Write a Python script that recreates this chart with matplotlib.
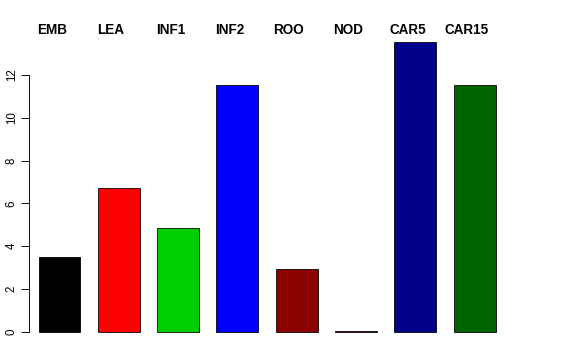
import matplotlib
matplotlib.use("Agg")
import matplotlib.pyplot as plt

categories = ["EMB", "LEA", "INF1", "INF2", "ROO", "NOD", "CAR5", "CAR15"]
values = [3.49, 6.70, 4.83, 11.53, 2.93, 0.02, 13.53, 11.52]
colors = ["#000000", "#FF0000", "#00CD00", "#0000FF", "#8B0000", "#8B008B", "#00008B", "#006400"]
yticks = [0, 2, 4, 6, 8, 10, 12]

W, H = 576, 360
fig = plt.figure(figsize=(W / 72, H / 72), dpi=72)
left_px, right_px, top_px, bottom_px = 29.3, 540.0, 30.7, 343.3
ax = fig.add_axes([left_px / W, 1 - bottom_px / H, (right_px - left_px) / W, (bottom_px - top_px) / H])

x = list(range(len(categories)))
ax.bar(x, values, width=0.708, color=colors, edgecolor="#000000", linewidth=0.8)

spacing = 59.3
ax.set_xlim((left_px - 59.5) / spacing, (right_px - 59.5) / spacing)
ymax = max(values)
ax.set_ylim(-0.04 * ymax, ymax * 1.04)

for s in ["top", "right", "bottom"]:
    ax.spines[s].set_visible(False)
ax.spines["left"].set_bounds(0, 12)
ax.spines["left"].set_linewidth(0.9)
ax.set_xticks([])
ax.set_yticks(yticks)
ax.set_yticklabels([str(t) for t in yticks], rotation=90, va="center",
                   fontsize=11.5, family="Liberation Sans")
ax.tick_params(axis="y", length=8.5, width=0.9, pad=3)

for xi, lab in zip(x, categories):
    ax.text(xi - 0.13, 1 - (30 - top_px) / (bottom_px - top_px), lab,
            transform=ax.get_xaxis_transform(), ha="center", va="center",
            fontsize=13.5, fontweight="bold", family="Liberation Sans")

fig.savefig("out.png", dpi=72)
